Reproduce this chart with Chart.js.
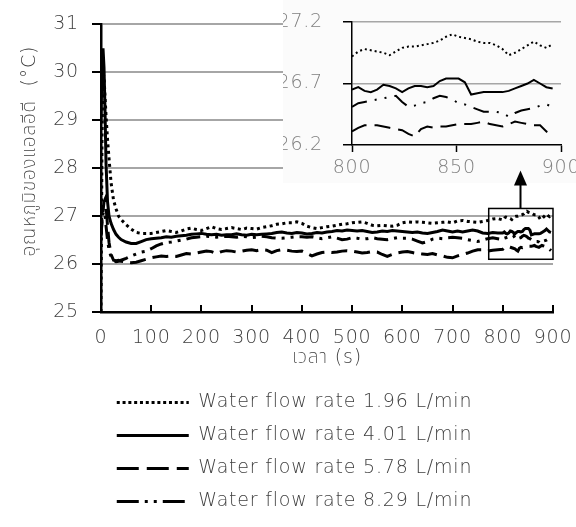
<!DOCTYPE html>
<html>
<head>
<meta charset="utf-8">
<script src="https://cdn.jsdelivr.net/npm/chart.js@4.4.0/dist/chart.umd.min.js"></script>
<style>
  html, body { margin: 0; padding: 0; background: #fff; }
  #wrap { position: relative; width: 576px; height: 527px; }
  #mainChart { position: absolute; left: 0; top: 0; }
  #insetChart { position: absolute; left: 283px; top: 0; }
</style>
</head>
<body>
<div id="wrap">
  <canvas id="mainChart" width="576" height="527"></canvas>
  <canvas id="insetChart" width="293" height="183"></canvas>
</div>
<script>
const seriesLabels = [
  "Water flow rate 1.96 L/min",
  "Water flow rate 4.01 L/min",
  "Water flow rate 5.78 L/min",
  "Water flow rate 8.29 L/min"
];

// time (s) for the main chart, 0 - 790
const mainTime = [0, 2, 4, 6, 8, 10, 13, 16, 20, 25, 30, 35, 40, 50, 60, 70, 80, 90, 100,
  110, 120, 130, 140, 150, 160, 170, 180, 190, 200,
  210, 220, 230, 240, 250, 260, 270, 280, 290, 300,
  310, 320, 330, 340, 350, 360, 370, 380, 390, 400,
  410, 420, 430, 440, 450, 460, 470, 480, 490, 500,
  510, 520, 530, 540, 550, 560, 570, 580, 590, 600,
  610, 620, 630, 640, 650, 660, 670, 680, 690, 700,
  710, 720, 730, 740, 750, 760, 770, 780, 790];

const flow196Main = [25.0, 28.6, 30.0, 29.9, 29.5, 29.1, 28.6, 28.2, 27.7, 27.33, 27.15, 27.0, 26.93, 26.82, 26.73, 26.66, 26.64, 26.64, 26.64,
  26.66, 26.68, 26.70, 26.68, 26.66, 26.69, 26.73, 26.75, 26.72, 26.70,
  26.74, 26.78, 26.74, 26.72, 26.74, 26.76, 26.74, 26.72, 26.75, 26.74,
  26.73, 26.76, 26.78, 26.80, 26.83, 26.84, 26.86, 26.86, 26.88, 26.85,
  26.79, 26.76, 26.74, 26.76, 26.78, 26.79, 26.81, 26.83, 26.84, 26.86,
  26.87, 26.88, 26.85, 26.81, 26.80, 26.81, 26.80, 26.79, 26.81, 26.86,
  26.88, 26.87, 26.88, 26.87, 26.86, 26.85, 26.86, 26.87, 26.88, 26.86,
  26.90, 26.91, 26.89, 26.88, 26.87, 26.89, 26.91, 26.94, 26.95];

const flow401Main = [29.0, 30.2, 30.5, 30.1, 29.2, 28.1, 27.3, 27.0, 26.85, 26.72, 26.62, 26.56, 26.51, 26.46, 26.43, 26.43, 26.47, 26.51, 26.53,
  26.54, 26.55, 26.57, 26.56, 26.58, 26.59, 26.60, 26.62, 26.63, 26.64,
  26.62, 26.61, 26.62, 26.60, 26.61, 26.61, 26.63, 26.61, 26.60, 26.62,
  26.61, 26.62, 26.63, 26.64, 26.66, 26.67, 26.65, 26.64, 26.66, 26.65,
  26.63, 26.64, 26.66, 26.65, 26.67, 26.68, 26.70, 26.69, 26.71, 26.70,
  26.69, 26.70, 26.68, 26.66, 26.67, 26.69, 26.68, 26.70, 26.69, 26.68,
  26.67, 26.66, 26.67, 26.65, 26.64, 26.66, 26.68, 26.71, 26.69, 26.67,
  26.69, 26.67, 26.69, 26.71, 26.69, 26.65, 26.64, 26.66, 26.65];

const flow578Main = [26.6, 26.9, 27.1, 27.3, 27.35, 27.2, 26.8, 26.45, 26.2, 26.08, 26.07, 26.08, 26.06, 26.04, 26.03, 26.04, 26.07, 26.10, 26.13,
  26.15, 26.17, 26.16, 26.17, 26.16, 26.19, 26.22, 26.21, 26.23, 26.25,
  26.27, 26.26, 26.22, 26.26, 26.28, 26.27, 26.25, 26.27, 26.29, 26.30,
  26.28, 26.30, 26.29, 26.24, 26.28, 26.30, 26.29, 26.27, 26.26, 26.27,
  26.22, 26.17, 26.21, 26.24, 26.25, 26.24, 26.25, 26.27, 26.28, 26.27,
  26.25, 26.23, 26.24, 26.26, 26.25, 26.20, 26.16, 26.20, 26.23, 26.25,
  26.26, 26.24, 26.22, 26.21, 26.20, 26.22, 26.19, 26.17, 26.14, 26.13,
  26.17, 26.20, 26.23, 26.27, 26.30, 26.30, 26.27, 26.29, 26.30];

const flow829Main = [26.6, 26.9, 27.05, 27.1, 27.0, 26.8, 26.5, 26.3, 26.15, 26.08, 26.05, 26.06, 26.08, 26.12, 26.17, 26.21, 26.25, 26.27, 26.32,
  26.38, 26.42, 26.45, 26.46, 26.48, 26.50, 26.52, 26.55, 26.56, 26.57,
  26.58, 26.57, 26.56, 26.57, 26.58, 26.57, 26.56, 26.58, 26.57, 26.55,
  26.56, 26.58, 26.57, 26.55, 26.54, 26.54, 26.55, 26.56, 26.57, 26.57,
  26.56, 26.57, 26.55, 26.53, 26.55, 26.57, 26.54, 26.51, 26.52, 26.55,
  26.54, 26.52, 26.53, 26.55, 26.53, 26.52, 26.51, 26.53, 26.55, 26.54,
  26.54, 26.52, 26.48, 26.44, 26.47, 26.52, 26.54, 26.53, 26.55, 26.56,
  26.55, 26.54, 26.51, 26.49, 26.47, 26.50, 26.53, 26.55, 26.53];

// finer readings for 800 - 900 s (shown in the inset)
const zoomTime = [800, 803, 806, 809, 812, 815, 818, 821, 824, 827, 830, 833, 836, 839, 842, 845, 848,
  851, 854, 857, 860, 863, 866, 869, 872, 875, 878, 881, 884, 887, 890, 893, 896];

const flow196Zoom = [26.92, 26.96, 26.98, 26.97, 26.96, 26.95, 26.93, 26.96, 26.99, 27.00, 27.00, 27.01, 27.02, 27.03, 27.05, 27.08, 27.10,
  27.08, 27.07, 27.06, 27.04, 27.03, 27.03, 27.01, 26.98, 26.93, 26.95, 26.98, 27.01, 27.04, 27.01, 26.99, 27.02];
const flow401Zoom = [26.65, 26.67, 26.64, 26.63, 26.65, 26.69, 26.68, 26.66, 26.63, 26.66, 26.68, 26.68, 26.67, 26.68, 26.72, 26.74, 26.74,
  26.74, 26.71, 26.61, 26.62, 26.63, 26.63, 26.63, 26.63, 26.64, 26.66, 26.68, 26.70, 26.73, 26.70, 26.67, 26.66];
const flow578Zoom = [26.31, 26.34, 26.36, 26.36, 26.36, 26.35, 26.34, 26.33, 26.32, 26.29, 26.27, 26.33, 26.35, 26.34, 26.35, 26.35, 26.36,
  26.37, 26.37, 26.37, 26.38, 26.39, 26.37, 26.36, 26.35, 26.37, 26.39, 26.38, 26.37, 26.36, 26.36, 26.31, 26.28];
const flow829Zoom = [26.51, 26.54, 26.55, 26.56, 26.57, 26.58, 26.59, 26.60, 26.55, 26.51, 26.52, 26.54, 26.55, 26.58, 26.60, 26.59, 26.57,
  26.54, 26.53, 26.51, 26.49, 26.47, 26.47, 26.47, 26.46, 26.43, 26.46, 26.48, 26.49, 26.50, 26.52, 26.53, 26.51];

const mainXTicks = [0, 100, 200, 300, 400, 500, 600, 700, 800, 900];
const mainYTicks = [25, 26, 27, 28, 29, 30, 31];
const zoomXTicks = [800, 850, 900];
const zoomYTicks = [26.2, 26.7, 27.2];

const FONT = '"DejaVu Sans", "Noto Sans", "Noto Sans Thai", sans-serif';
const FS = 19;
const LIGHT = 200;
const TEXT = "#404040";
const SPACING = "0.8px";

const mainDash = [[3, 3.5], [], [16, 7], [14, 6, 3, 6, 3, 6]];
const legendDash = [[3, 2.8], [], [22, 8], [22, 6, 3, 6, 3, 6]];
const zoomDash = [[2, 3], [], [16, 8], [16, 8, 2, 8, 2, 8]];

function toPoints(times, values) {
  return times.map((t, i) => ({ x: t, y: values[i] }));
}

const mainValues = [
  flow196Main.concat(flow196Zoom),
  flow401Main.concat(flow401Zoom),
  flow578Main.concat(flow578Zoom),
  flow829Main.concat(flow829Zoom)
];
const zoomValues = [flow196Zoom, flow401Zoom, flow578Zoom, flow829Zoom];
const allTime = mainTime.concat(zoomTime);

// wider text, closer to the original lettering
const spacedText = {
  id: "spacedText",
  afterInit(chart) { chart.ctx.letterSpacing = SPACING; },
  beforeUpdate(chart) { chart.ctx.letterSpacing = SPACING; }
};

// light panel behind the inset, hides the main grid there
const insetBackdrop = {
  id: "insetBackdrop",
  beforeDatasetsDraw(chart) {
    const ctx = chart.ctx;
    ctx.save();
    ctx.fillStyle = "#fbfbfb";
    ctx.fillRect(283, 0, 293, 183);
    ctx.restore();
  }
};

// x ticks of the main chart point up into the plot
const innerTicks = {
  id: "innerTicks",
  afterDatasetsDraw(chart) {
    const ctx = chart.ctx;
    const xs = chart.scales.x;
    const bottom = chart.chartArea.bottom;
    ctx.save();
    ctx.strokeStyle = "#000";
    ctx.lineWidth = 2;
    mainXTicks.forEach(v => {
      const px = Math.round(xs.getPixelForValue(v));
      ctx.beginPath();
      ctx.moveTo(px, bottom);
      ctx.lineTo(px, bottom - 7);
      ctx.stroke();
    });
    ctx.restore();
  }
};

// box round 772-900 s with arrow pointing to the inset
const zoomMarker = {
  id: "zoomMarker",
  afterDraw(chart) {
    const ctx = chart.ctx;
    const xs = chart.scales.x, ys = chart.scales.y;
    const l = xs.getPixelForValue(772), r = xs.getPixelForValue(900);
    const t = ys.getPixelForValue(27.16), b = ys.getPixelForValue(26.1);
    const ax = Math.round(xs.getPixelForValue(834)) + 0.5;
    ctx.save();
    ctx.strokeStyle = "#000";
    ctx.lineWidth = 1.5;
    ctx.strokeRect(l, t, r - l, b - t);
    ctx.lineWidth = 2;
    ctx.beginPath();
    ctx.moveTo(ax, t);
    ctx.lineTo(ax, t - 24);
    ctx.stroke();
    ctx.fillStyle = "#000";
    ctx.beginPath();
    ctx.moveTo(ax - 6.5, t - 23);
    ctx.lineTo(ax + 6.5, t - 23);
    ctx.lineTo(ax, t - 38);
    ctx.closePath();
    ctx.fill();
    ctx.restore();
  }
};

const textFont = { family: FONT, size: FS, weight: LIGHT };
const LEFT_PAD = 36;

const mainChart = new Chart(document.getElementById("mainChart"), {
  type: "line",
  data: {
    datasets: seriesLabels.map((label, i) => ({
      label: label,
      data: toPoints(allTime, mainValues[i]),
      borderColor: "#000",
      backgroundColor: "#000",
      borderWidth: 3,
      borderDash: mainDash[i],
      borderCapStyle: "butt",
      pointRadius: 0,
      tension: 0,
      fill: false
    }))
  },
  options: {
    responsive: false,
    animation: false,
    devicePixelRatio: 1,
    layout: { padding: { left: LEFT_PAD, right: 23, top: 20, bottom: 6 } },
    scales: {
      x: {
        type: "linear",
        min: 0,
        max: 900,
        afterBuildTicks: s => { s.ticks = mainXTicks.map(v => ({ value: v })); },
        afterFit: s => { s.height = 67; s.paddingLeft = 0; s.paddingRight = 0; },
        grid: { drawOnChartArea: false, drawTicks: false },
        border: { color: "#000", width: 2.5 },
        ticks: { color: TEXT, font: textFont, padding: 15, maxRotation: 0, autoSkip: false },
        title: {
          display: true,
          text: "เวลา (s)",
          color: TEXT,
          font: textFont,
          padding: { top: 0, bottom: 10 }
        }
      },
      y: {
        min: 25,
        max: 31,
        afterBuildTicks: s => { s.ticks = mainYTicks.map(v => ({ value: v })); },
        afterFit: s => { s.width = 101 - LEFT_PAD; },
        grid: {
          color: c => (c.tick && c.tick.value === 25 ? "rgba(0,0,0,0)" : "#a6a6a6"),
          lineWidth: 2,
          tickColor: "#000",
          tickLength: 9,
          tickWidth: 2
        },
        border: { color: "#000", width: 2.5 },
        ticks: { color: TEXT, font: textFont, padding: 13 },
        title: {
          display: true,
          text: "     อุณหภูมิของแอลอีดี  (°C)",
          color: TEXT,
          font: textFont,
          padding: { top: -17, bottom: 0 }
        }
      }
    },
    plugins: {
      legend: {
        position: "bottom",
        labels: {
          usePointStyle: true,
          pointStyleWidth: 72,
          padding: 14,
          color: TEXT,
          font: textFont,
          generateLabels: chart => chart.data.datasets.map((ds, i) => ({
            text: ds.label,
            fillStyle: "#000",
            strokeStyle: "#000",
            lineWidth: 3,
            lineDash: legendDash[i],
            lineCap: "butt",
            pointStyle: "line",
            fontColor: TEXT,
            hidden: false,
            datasetIndex: i
          }))
        }
      },
      tooltip: { enabled: false }
    }
  },
  plugins: [spacedText, insetBackdrop, innerTicks, zoomMarker]
});

const insetChart = new Chart(document.getElementById("insetChart"), {
  type: "line",
  data: {
    datasets: seriesLabels.map((label, i) => ({
      label: label,
      data: toPoints(zoomTime, zoomValues[i]),
      borderColor: "#000",
      borderWidth: 2,
      borderDash: zoomDash[i],
      borderCapStyle: "butt",
      pointRadius: 0,
      tension: 0,
      fill: false
    }))
  },
  options: {
    responsive: false,
    animation: false,
    devicePixelRatio: 1,
    layout: { padding: { left: 0, right: 15, top: 22, bottom: 0 } },
    scales: {
      x: {
        type: "linear",
        min: 800,
        max: 900,
        afterBuildTicks: s => { s.ticks = zoomXTicks.map(v => ({ value: v })); },
        afterFit: s => { s.height = 38; s.paddingLeft = 0; s.paddingRight = 0; },
        grid: { drawOnChartArea: false, tickColor: "#000", tickLength: 7, tickWidth: 1.5 },
        border: { color: "#000", width: 1.5 },
        ticks: { color: "#7f7f7f", font: textFont, padding: 5, maxRotation: 0, autoSkip: false }
      },
      y: {
        min: 26.2,
        max: 27.2,
        afterBuildTicks: s => { s.ticks = zoomYTicks.map(v => ({ value: v })); },
        afterFit: s => { s.width = 69; s.paddingTop = 0; s.paddingBottom = 0; },
        grid: {
          color: c => (c.tick && c.tick.value === 26.2 ? "rgba(0,0,0,0)" : "#a6a6a6"),
          lineWidth: 1.5,
          tickColor: "#000",
          tickLength: 9,
          tickWidth: 1.5
        },
        border: { color: "#000", width: 1.5 },
        ticks: { color: "#7f7f7f", font: textFont, padding: 20, callback: v => v.toFixed(1) }
      }
    },
    plugins: {
      legend: { display: false },
      tooltip: { enabled: false }
    }
  },
  plugins: [spacedText]
});
</script>
</body>
</html>
